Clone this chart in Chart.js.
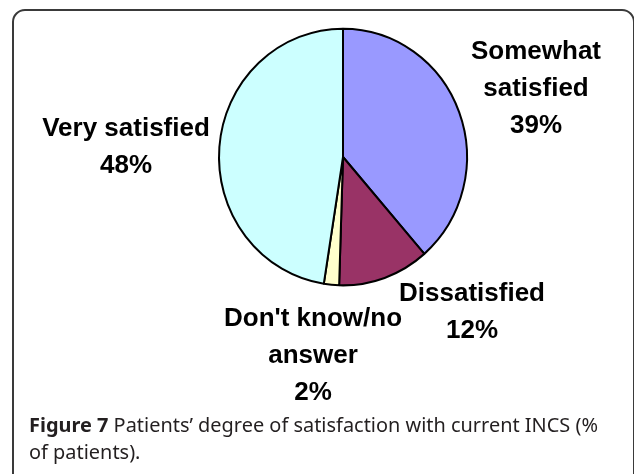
<!DOCTYPE html>
<html>
<head>
<meta charset="utf-8">
<script src="https://cdn.jsdelivr.net/npm/chart.js@4/dist/chart.umd.min.js"></script>
<style>
  html, body { margin: 0; padding: 0; background: #fff; }
  #wrap { position: relative; width: 634px; height: 474px; overflow: hidden; }
  #frame {
    position: absolute; left: 12px; top: 9px; width: 619px; height: 500px;
    border: 2px solid #3a3a3a; border-radius: 13px;
  }
  #pie { position: absolute; left: 0; top: 0; }
</style>
</head>
<body>
<div id="wrap">
  <div id="frame"></div>
  <canvas id="pie" width="634" height="474"></canvas>
</div>
<script>
// Données
const categories = [['Somewhat', 'satisfied'], ['Dissatisfied'], ["Don't know/no", 'answer'], ['Very satisfied']];
const values = [39, 12, 2, 48];
const colors = ['#9999FF', '#993366', '#FFFFCC', '#CCFFFF'];

// Position des étiquettes (centre x, y de la première ligne)
const labelPos = [[536, 52], [472, 294], [313, 319], [126, 129]];
const lineGap = 37;

const captionBold = 'Figure 7';
const captionRest = ' Patients\u2019 degree of satisfaction with current INCS (%';
const captionLine2 = 'of patients).';

// Le camembert d'origine est légèrement ovale
const stretchY = 1.035;

const ovalPlugin = {
    id: 'oval',
    beforeDatasetsDraw(chart) {
        const arc = chart.getDatasetMeta(0).data[0];
        const ctx = chart.ctx;
        ctx.save();
        ctx.translate(arc.x, arc.y);
        ctx.scale(1, stretchY);
        ctx.translate(-arc.x, -arc.y);
    },
    afterDatasetsDraw(chart) {
        chart.ctx.restore();
    }
};

const labelsPlugin = {
    id: 'sliceLabels',
    afterDraw(chart) {
        const ctx = chart.ctx;
        ctx.save();
        ctx.fillStyle = '#000';
        ctx.font = 'bold 26px "Liberation Sans", Arial, sans-serif';
        ctx.textAlign = 'center';
        ctx.textBaseline = 'middle';
        chart.data.labels.forEach((lines, i) => {
            const all = lines.concat([values[i] + '%']);
            const [x, y] = labelPos[i];
            all.forEach((t, j) => ctx.fillText(t, x, y + j * lineGap));
        });

        // légende de la figure
        ctx.fillStyle = '#231f20';
        ctx.textAlign = 'left';
        ctx.textBaseline = 'alphabetic';
        const boldFont = 'bold 20px "Noto Sans", sans-serif';
        const regFont = '20px "Noto Sans", sans-serif';
        ctx.font = boldFont;
        const wB = ctx.measureText(captionBold).width;
        ctx.font = regFont;
        const wR = ctx.measureText(captionRest).width;
        const k = Math.min(1, 569 / (wB + wR));
        ctx.translate(29, 432);
        ctx.scale(k, 1);
        ctx.font = boldFont;
        ctx.fillText(captionBold, 0, 0);
        ctx.font = regFont;
        ctx.fillText(captionRest, wB, 0);
        ctx.fillText(captionLine2, 0, 27);
        ctx.restore();
    }
};

new Chart(document.getElementById('pie'), {
    type: 'pie',
    data: {
        labels: categories,
        datasets: [{
            data: values,
            backgroundColor: colors,
            borderColor: '#000',
            borderWidth: 2
        }]
    },
    options: {
        responsive: false,
        animation: false,
        events: [],
        layout: { padding: { left: 218, right: 166, top: 32, bottom: 192 } },
        plugins: {
            legend: { display: false },
            tooltip: { enabled: false }
        }
    },
    plugins: [ovalPlugin, labelsPlugin]
});
</script>
</body>
</html>
